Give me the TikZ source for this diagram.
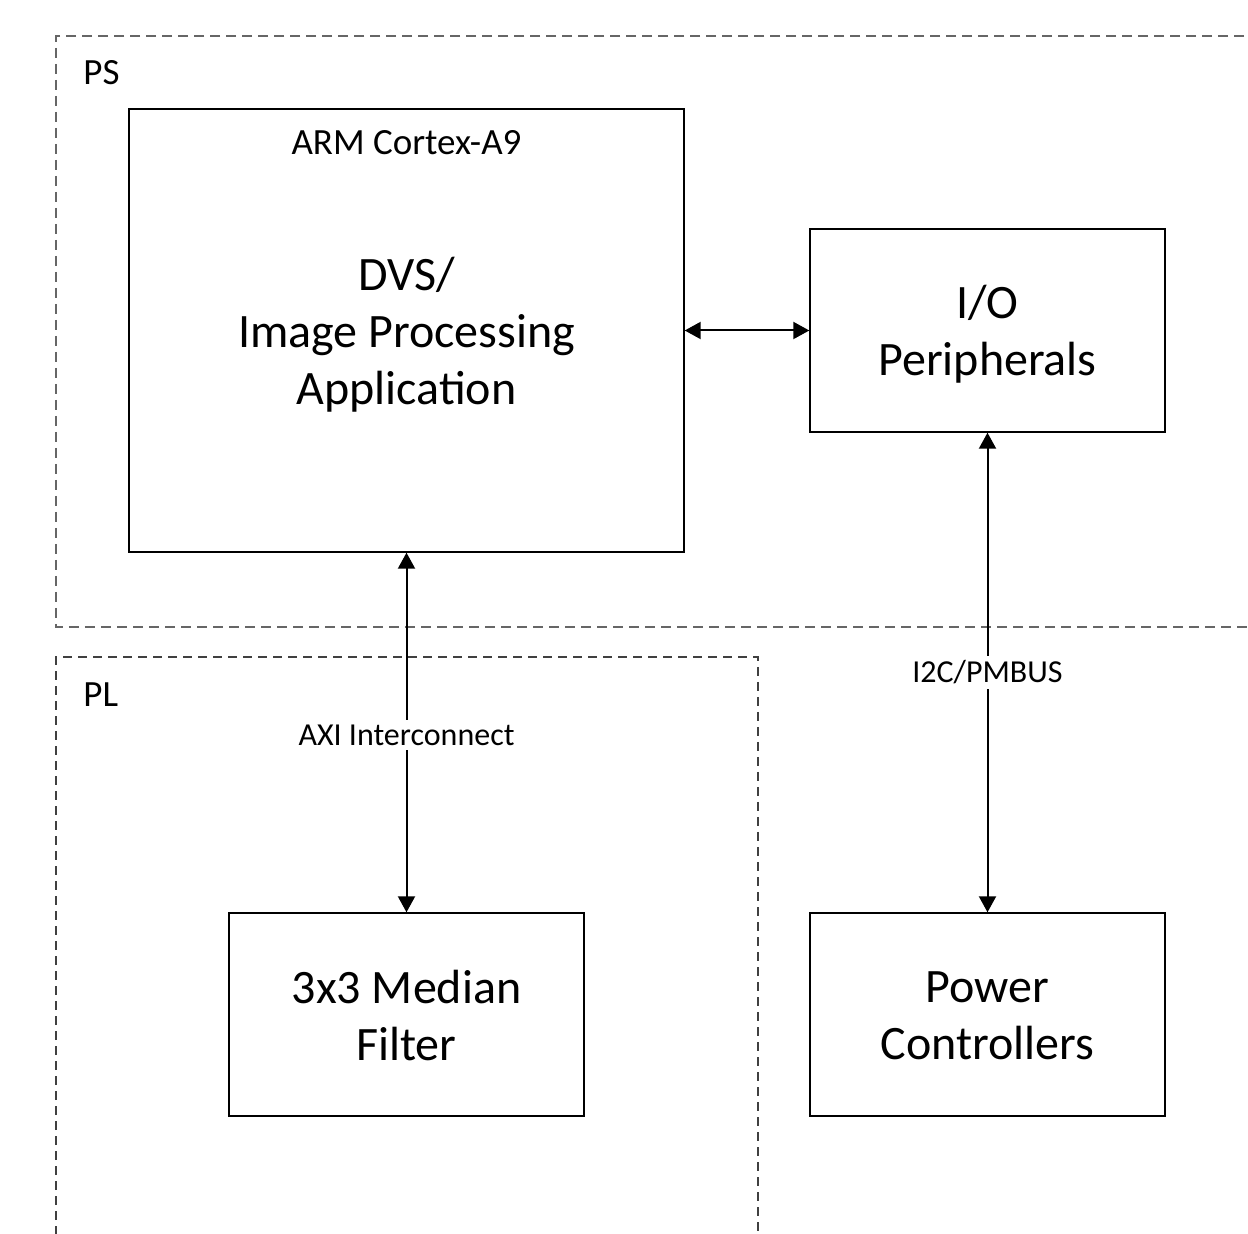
\documentclass[tikz,border=0pt]{standalone}
\usepackage{fontspec}
\setmainfont{Carlito}
\usetikzlibrary{arrows.meta}
\begin{document}
\begin{tikzpicture}[x=0.5pt,y=-0.5pt,
  blk/.style={draw=black,line width=0.7pt,inner sep=0pt,fill=none},
  bigtxt/.style={font=\fontsize{24}{28.5}\selectfont,align=center,inner sep=0pt},
  smalltxt/.style={font=\fontsize{18.5}{22}\selectfont,inner sep=0pt},
  lbl/.style={font=\fontsize{16}{19}\selectfont,fill=white,inner sep=2.5pt},
  region/.style={draw=black!60,line width=1pt,dash pattern=on 5pt off 3pt},
  regionpl/.style={draw=black!75,line width=0.6pt,dash pattern=on 4.5pt off 3pt},
  conn/.style={line width=1pt,{Triangle[length=8pt,width=8.5pt]}-{Triangle[length=8pt,width=8.5pt]}}
]
\clip (0,0) rectangle (1248,1234);
\fill[white] (0,0) rectangle (1248,1234);
% regions
\draw[region] (1260,36) -- (56,36) -- (56,627) -- (1260,627);
\draw[regionpl] (56,1250) -- (56,657) -- (758,657) -- (758,1250);
\node[smalltxt,anchor=west] (pslbl) at (83,73) {PS};
\node[smalltxt,anchor=west] (pllbl) at (83,695) {PL};
% blocks
\node[blk,minimum width=277.5pt,minimum height=221.5pt] (arm) at (406.5,330.5) {};
\node[smalltxt] (armt) at (406.5,143) {ARM Cortex-A9};
\node[bigtxt] (armb) at (406.5,335) {DVS/\\Image Processing\\Application};
\node[blk,minimum width=177.5pt,minimum height=101.5pt] (io) at (987.5,330.5) {};
\node[bigtxt] (iot) at (987.5,334) {I/O\\Peripherals};
\node[blk,minimum width=177.5pt,minimum height=101.5pt] (med) at (406.5,1014.5) {};
\node[bigtxt] (medt) at (406.5,1016) {3x3 Median\\Filter};
\node[blk,minimum width=177.5pt,minimum height=101.5pt] (pow) at (987.5,1014.5) {};
\node[bigtxt] (powt) at (987.5,1016) {Power\\Controllers};
% connectors
\draw[conn] (arm.east) -- (io.west);
\draw[conn] (arm.south) -- node[lbl,pos=0.507] (axi) {AXI Interconnect} (med.north);
\draw[conn] (io.south) -- node[lbl,pos=0.5] (i2c) {I2C/PMBUS} (pow.north);
\end{tikzpicture}
\end{document}
